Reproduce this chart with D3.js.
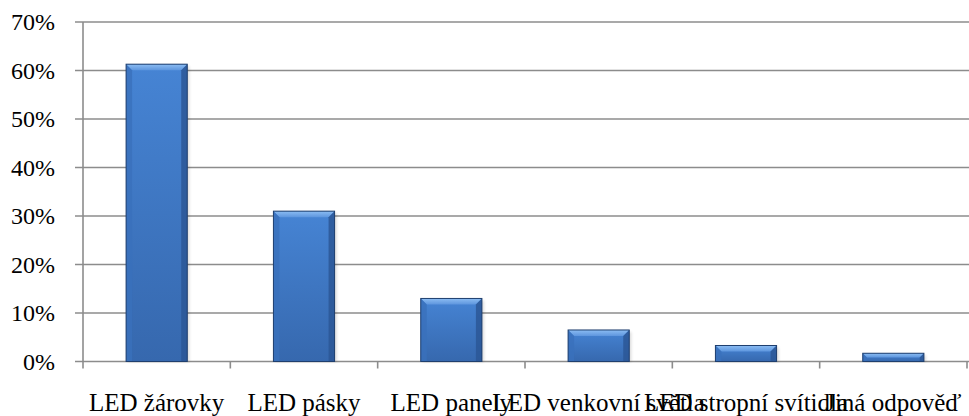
<!DOCTYPE html>
<html>
<head>
<meta charset="utf-8">
<script src="https://cdn.jsdelivr.net/npm/d3@7"></script>
<style>
  html, body { margin: 0; padding: 0; background: #ffffff; }
  svg { display: block; }
</style>
</head>
<body>
<svg id="chart" width="969" height="416"></svg>
<script>
// Survey answers and their shares
const categories = ["LED žárovky", "LED pásky", "LED panely", "LED venkovní světla", "LED stropní svítidla", "Jiná odpověď"];
const values = [0.613, 0.31, 0.13, 0.065, 0.033, 0.017];
const yTicks = [0, 0.1, 0.2, 0.3, 0.4, 0.5, 0.6, 0.7];

const FONT = "'Liberation Serif', Tinos, 'Times New Roman', Times, serif";

const svg = d3.select("#chart");
const margin = { left: 83, right: 2, top: 22, bottom: 54.5 };
const W = 969, H = 416;
const x0 = margin.left, x1 = W - margin.right;
const y0 = H - margin.bottom, y1 = margin.top;

const x = d3.scaleBand().domain(categories).range([x0, x1]).paddingInner(0.585).paddingOuter(0.2925);
const xb = d3.scaleBand().domain(categories).range([x0, x1]);
const y = d3.scaleLinear().domain([0, 0.7]).range([y0, y1]);

const defs = svg.append("defs");
const body = defs.append("linearGradient").attr("id", "barBody").attr("x1", 0).attr("x2", 0).attr("y1", 0).attr("y2", 1);
body.append("stop").attr("offset", "0%").attr("stop-color", "#4684d4");
body.append("stop").attr("offset", "100%").attr("stop-color", "#3668ae");
const topG = defs.append("linearGradient").attr("id", "barTop").attr("x1", 0).attr("x2", 0).attr("y1", 0).attr("y2", 1);
topG.append("stop").attr("offset", "0%").attr("stop-color", "#8cbdf3");
topG.append("stop").attr("offset", "100%").attr("stop-color", "#5e96de");
const shadow = defs.append("filter").attr("id", "soft").attr("x", "-20%").attr("y", "-20%").attr("width", "140%").attr("height", "140%");
shadow.append("feGaussianBlur").attr("stdDeviation", 1.5);

// Gridlines
svg.append("g").selectAll("line").data(yTicks).join("line")
  .attr("x1", x0 - 8).attr("x2", x1 + 2)
  .attr("y1", d => y(d)).attr("y2", d => y(d))
  .attr("stroke", "#8c8c8c").attr("stroke-width", 1.6);

// Y axis line
svg.append("line").attr("x1", x0).attr("x2", x0).attr("y1", y1).attr("y2", y0 + 7)
  .attr("stroke", "#8c8c8c").attr("stroke-width", 1.6);

// Category tick marks at band boundaries
svg.append("g").selectAll("line").data(categories).join("line")
  .attr("x1", d => xb(d) + xb.bandwidth()).attr("x2", d => xb(d) + xb.bandwidth())
  .attr("y1", y0).attr("y2", y0 + 7)
  .attr("stroke", "#8c8c8c").attr("stroke-width", 1.6);

// Y tick labels
svg.append("g").selectAll("text").data(yTicks).join("text")
  .attr("x", 55).attr("y", d => y(d)).attr("dy", "0.35em")
  .attr("text-anchor", "end").attr("font-family", FONT).attr("font-size", 24)
  .text(d => d3.format(".0%")(d));

// Bars with bevelled edges
const bev = 6;
const bars = svg.append("g").selectAll("g").data(categories).join("g");
bars.each(function(c, i) {
  const g = d3.select(this);
  const bx = x(c), bw = x.bandwidth(), by = y(values[i]), bh = y0 - by;
  const b = Math.min(bev, bh / 2, bw / 2);
  g.append("rect").attr("x", bx + 2).attr("y", by + 2).attr("width", bw).attr("height", bh - 2)
    .attr("fill", "#000").attr("opacity", 0.15).attr("filter", "url(#soft)");
  g.append("rect").attr("x", bx).attr("y", by).attr("width", bw).attr("height", bh).attr("fill", "url(#barBody)");
  // top facet
  g.append("path").attr("d", `M${bx},${by}L${bx + bw},${by}L${bx + bw - b},${by + b}L${bx + b},${by + b}Z`).attr("fill", "url(#barTop)");
  // left facet
  g.append("path").attr("d", `M${bx},${by}L${bx + b},${by + b}L${bx + b},${y0}L${bx},${y0}Z`).attr("fill", "#3a70bb").attr("opacity", 0.8);
  // right facet
  g.append("path").attr("d", `M${bx + bw},${by}L${bx + bw - b},${by + b}L${bx + bw - b},${y0}L${bx + bw},${y0}Z`).attr("fill", "#2b5796").attr("opacity", 0.85);
  g.append("rect").attr("x", bx).attr("y", by).attr("width", bw).attr("height", bh)
    .attr("fill", "none").attr("stroke", "#1f3f6e").attr("stroke-width", 1);
});

// Category labels
svg.append("g").selectAll("text").data(categories).join("text")
  .attr("x", d => xb(d) + xb.bandwidth() / 2).attr("y", 410.5)
  .attr("text-anchor", "middle").attr("font-family", FONT).attr("font-size", 25)
  .text(d => d);
</script>
</body>
</html>
